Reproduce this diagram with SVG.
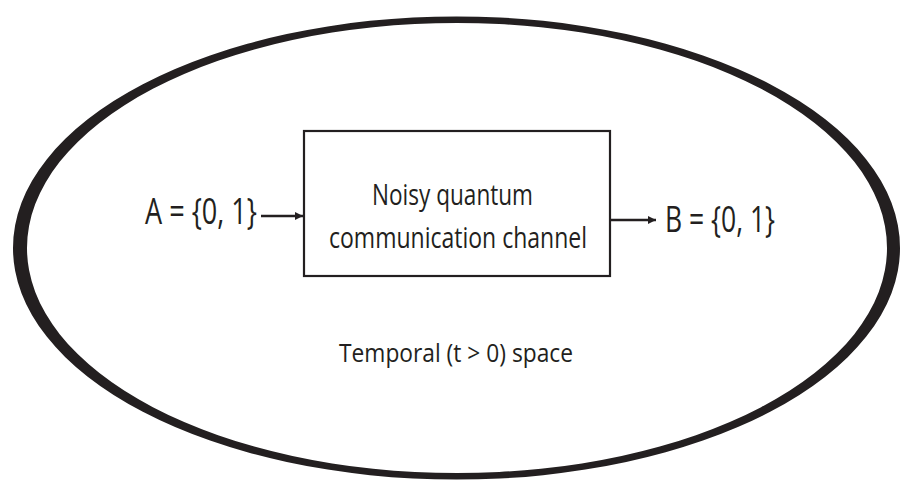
<svg xmlns="http://www.w3.org/2000/svg" width="902" height="480" viewBox="0 0 902 480">
<style>
.t{font-family:"Open Sans","Noto Sans","Liberation Sans",sans-serif;fill:#231f20}
.ln{stroke:#231f20;stroke-width:2.5;fill:none}
</style>
<defs>
<marker id="ah" viewBox="0 0 10 10" refX="10" refY="5" markerWidth="3.2" markerHeight="3.2" markerUnits="strokeWidth" orient="auto">
<path d="M0,0 L10,5 L0,10 Z" fill="#231f20"/>
</marker>
</defs>
<rect width="902" height="480" fill="#ffffff"/>
<g id="space">
<path fill="#231f20" fill-rule="evenodd" d="M13,248 A443.5,231.5 0 1,0 900,248 A443.5,231.5 0 1,0 13,248 Z M27,248 A430,225 0 1,0 887,248 A430,225 0 1,0 27,248 Z"/>
<text class="t" x="339" y="362" font-size="25" textLength="234" lengthAdjust="spacingAndGlyphs">Temporal (t &gt; 0) space</text>
</g>
<g id="channel">
<rect x="304" y="131" width="306" height="145" fill="#ffffff" stroke="#231f20" stroke-width="2.2"/>
<text class="t" x="372" y="205" font-size="30" textLength="161" lengthAdjust="spacingAndGlyphs">Noisy quantum</text>
<text class="t" x="329" y="248" font-size="30" textLength="258" lengthAdjust="spacingAndGlyphs">communication channel</text>
</g>
<g id="source">
<text class="t" x="145" y="224" font-size="36" textLength="112" lengthAdjust="spacingAndGlyphs">A = {0, 1}</text>
</g>
<g id="sink">
<text class="t" x="665" y="232" font-size="37" textLength="110" lengthAdjust="spacingAndGlyphs">B = {0, 1}</text>
</g>
<g id="connectors">
<line class="ln" x1="261" y1="216" x2="303" y2="216" marker-end="url(#ah)"/>
<line class="ln" x1="611" y1="220" x2="656" y2="220" marker-end="url(#ah)"/>
</g>
</svg>
